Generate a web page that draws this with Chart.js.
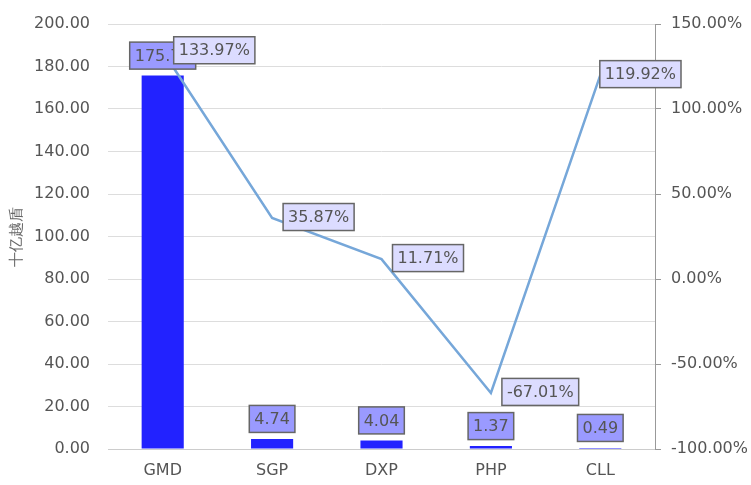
<!DOCTYPE html>
<html>
<head>
<meta charset="utf-8">
<script src="https://cdn.jsdelivr.net/npm/chart.js@4/dist/chart.umd.min.js"></script>
<style>
  html, body { margin: 0; padding: 0; background: #fff; }
  #wrap { width: 751px; height: 485px; }
</style>
</head>
<body>
<div id="wrap"><canvas id="chart" width="751" height="485"></canvas></div>
<script>
const categories = ['GMD', 'SGP', 'DXP', 'PHP', 'CLL'];
const barValues = [175.71, 4.74, 4.04, 1.37, 0.49];
const growthValues = [133.97, 35.87, 11.71, -67.01, 119.92];
const axisTitle = '十亿越盾';

const FONT = '"DejaVu Sans", Verdana, sans-serif';

// draws the boxed value labels above bars and beside line points
const boxLabels = {
    id: 'boxLabels',
    afterDatasetsDraw(chart) {
        const ctx = chart.ctx;
        ctx.save();
        ctx.font = '16px ' + FONT;
        ctx.textBaseline = 'middle';
        ctx.lineWidth = 1.5;

        function box(text, x, y, align, fill) {
            const w = ctx.measureText(text).width + 10;
            const h = 27;
            let left = align === 'center' ? x - w / 2 : x;
            const right = chart.chartArea.right + 26;
            if (left + w > right) left = right - w;
            ctx.fillStyle = fill;
            ctx.fillRect(left, y - h / 2, w, h);
            ctx.strokeStyle = '#666';
            ctx.strokeRect(left, y - h / 2, w, h);
            ctx.fillStyle = '#555';
            ctx.textAlign = 'left';
            ctx.fillText(text, left + 5, y + 1);
        }

        const bars = chart.getDatasetMeta(0).data;
        bars.forEach((el, i) => {
            box(barValues[i].toFixed(2), el.x, el.y - 20, 'center', '#9a9aff');
        });
        const pts = chart.getDatasetMeta(1).data;
        pts.forEach((el, i) => {
            box(growthValues[i].toFixed(2) + '%', el.x + 11, el.y - 1, 'left', '#dcdcff');
        });
        ctx.restore();
    }
};

// fixed axis sizes so the plot area lands where the reference has it
function fixY(width) {
    return s => {
        s.width = width;
        s.paddingTop = 0;
        s.paddingBottom = 0;
    };
}

const ctx = document.getElementById('chart').getContext('2d');
new Chart(ctx, {
    data: {
        labels: categories,
        datasets: [{
            type: 'bar',
            data: barValues,
            backgroundColor: '#2222ff',
            yAxisID: 'y',
            barPercentage: 0.77,
            categoryPercentage: 0.5,
            order: 2
        }, {
            type: 'line',
            data: growthValues,
            borderColor: '#76a7d9',
            borderWidth: 2.5,
            pointRadius: 0,
            tension: 0,
            fill: false,
            yAxisID: 'y1',
            order: 1
        }]
    },
    options: {
        responsive: false,
        animation: false,
        layout: { padding: { top: 24, right: 4, left: 8, bottom: 0 } },
        plugins: {
            legend: { display: false },
            tooltip: { enabled: false }
        },
        scales: {
            x: {
                afterFit: s => { s.height = 36; },
                grid: { display: false, drawTicks: false },
                border: { display: true, color: '#ccc' },
                ticks: { color: '#555', font: { family: FONT, size: 16 }, padding: 12 }
            },
            y: {
                position: 'left',
                min: 0,
                max: 200,
                afterFit: fixY(100),
                ticks: {
                    stepSize: 20,
                    color: '#555',
                    font: { family: FONT, size: 16 },
                    padding: 18,
                    callback: v => v.toFixed(2)
                },
                grid: { color: '#ddd', drawTicks: false },
                border: { display: false },
                title: {
                    display: true,
                    text: axisTitle,
                    color: '#666',
                    font: { family: FONT, size: 15 },
                    padding: { top: 0, bottom: 2 }
                }
            },
            y1: {
                position: 'right',
                min: -100,
                max: 150,
                afterFit: fixY(92),
                ticks: {
                    stepSize: 50,
                    color: '#555',
                    font: { family: FONT, size: 16 },
                    padding: 10,
                    callback: v => v.toFixed(2) + '%'
                },
                grid: { drawOnChartArea: false, color: '#999', tickLength: 6 },
                border: { display: true, color: '#999' }
            }
        }
    },
    plugins: [boxLabels]
});
</script>
</body>
</html>
